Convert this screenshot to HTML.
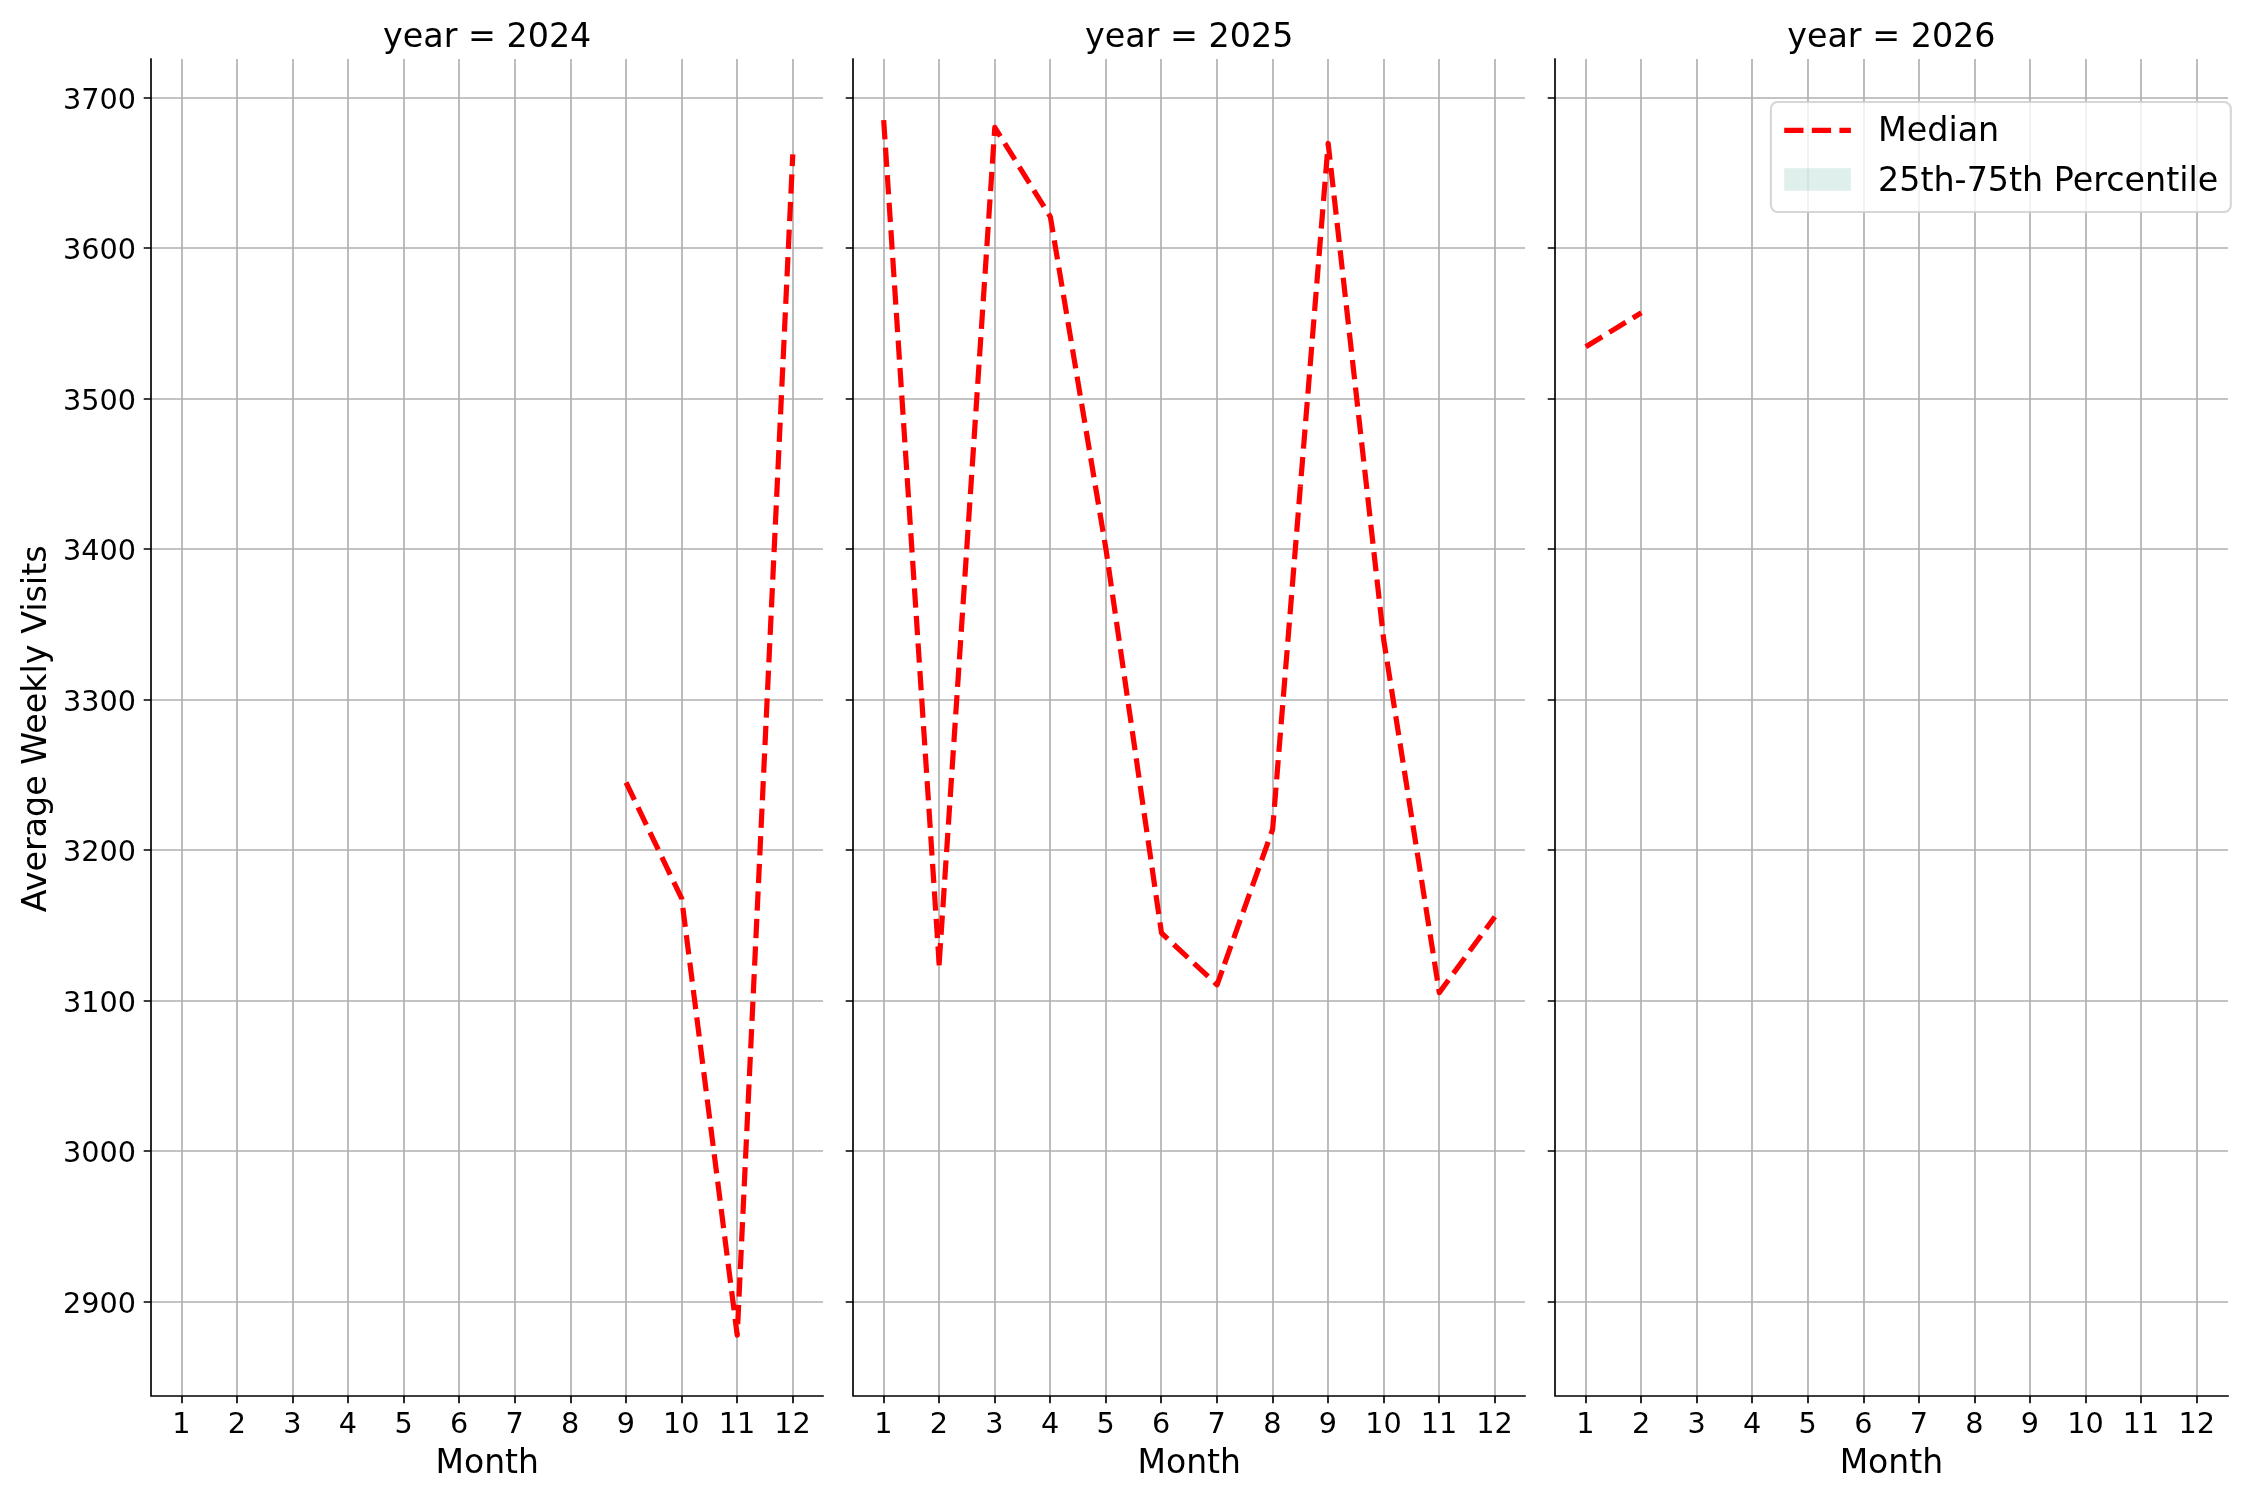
<!DOCTYPE html>
<html><head><meta charset="utf-8"><title>Average Weekly Visits by Month</title>
<style>html,body{margin:0;padding:0;background:#fff;overflow:hidden;}svg{display:block;will-change:transform;}text{font-family:'DejaVu Sans', 'Liberation Sans', sans-serif;fill:#000;}</style>
</head><body>
<svg width="2250" height="1500" viewBox="0 0 2250 1500">
<rect x="0" y="0" width="2250" height="1500" fill="#ffffff"/>
<defs>
<clipPath id="c0"><rect x="151" y="59" width="672" height="1337"/></clipPath>
<clipPath id="c1"><rect x="853" y="59" width="672" height="1337"/></clipPath>
<clipPath id="c2"><rect x="1555" y="59" width="673" height="1337"/></clipPath>
</defs>
<path d="M182 1396V59M237 1396V59M293 1396V59M348 1396V59M404 1396V59M459 1396V59M515 1396V59M571 1396V59M626 1396V59M682 1396V59M737 1396V59M793 1396V59M151 1302H823M151 1151H823M151 1001H823M151 850H823M151 700H823M151 549H823M151 399H823M151 248H823M151 98H823" stroke="#b0b0b0" stroke-width="1.667" stroke-linecap="square" fill="none" clip-path="url(#c0)"/>
<path d="M626.09 782.50 L681.66 898.40 L737.22 1335.10 L792.78 154.30" stroke="#ff0000" stroke-width="5.208" stroke-dasharray="19.271 8.333" stroke-linecap="butt" stroke-linejoin="round" fill="none" clip-path="url(#c0)"/>
<path d="M182 1396v7.29M237 1396v7.29M293 1396v7.29M348 1396v7.29M404 1396v7.29M459 1396v7.29M515 1396v7.29M571 1396v7.29M626 1396v7.29M682 1396v7.29M737 1396v7.29M793 1396v7.29M151 1302h-7.29M151 1151h-7.29M151 1001h-7.29M151 850h-7.29M151 700h-7.29M151 549h-7.29M151 399h-7.29M151 248h-7.29M151 98h-7.29" stroke="#000" stroke-width="1.667" fill="none"/>
<path d="M151 59V1396H823" stroke="#000" stroke-width="1.667" stroke-linecap="square" stroke-linejoin="miter" fill="none"/>
<text x="181.30" y="1433.0" font-size="28.7" text-anchor="middle">1</text>
<text x="236.86" y="1433.0" font-size="28.7" text-anchor="middle">2</text>
<text x="292.42" y="1433.0" font-size="28.7" text-anchor="middle">3</text>
<text x="347.99" y="1433.0" font-size="28.7" text-anchor="middle">4</text>
<text x="403.55" y="1433.0" font-size="28.7" text-anchor="middle">5</text>
<text x="459.11" y="1433.0" font-size="28.7" text-anchor="middle">6</text>
<text x="514.67" y="1433.0" font-size="28.7" text-anchor="middle">7</text>
<text x="570.23" y="1433.0" font-size="28.7" text-anchor="middle">8</text>
<text x="625.79" y="1433.0" font-size="28.7" text-anchor="middle">9</text>
<text x="681.36" y="1433.0" font-size="28.7" text-anchor="middle">10</text>
<text x="736.92" y="1433.0" font-size="28.7" text-anchor="middle">11</text>
<text x="792.48" y="1433.0" font-size="28.7" text-anchor="middle">12</text>
<text x="487.19" y="1472.8" font-size="33.0" text-anchor="middle">Month</text>
<text x="487.19" y="47.1" font-size="33.33" text-anchor="middle">year = 2024</text>
<path d="M884 1396V59M939 1396V59M995 1396V59M1050 1396V59M1106 1396V59M1161 1396V59M1217 1396V59M1273 1396V59M1328 1396V59M1384 1396V59M1439 1396V59M1495 1396V59M853 1302H1525M853 1151H1525M853 1001H1525M853 850H1525M853 700H1525M853 549H1525M853 399H1525M853 248H1525M853 98H1525" stroke="#b0b0b0" stroke-width="1.667" stroke-linecap="square" fill="none" clip-path="url(#c1)"/>
<path d="M883.68 120.10 L939.24 965.30" stroke="#ff0000" stroke-width="5.208" stroke-dasharray="19.271 8.333" stroke-linecap="butt" stroke-linejoin="round" fill="none" clip-path="url(#c1)"/>
<path d="M939.24 962.30 L994.80 127.30 L1050.37 216.90 L1105.93 549.00 L1161.49 933.00 L1217.05 984.80 L1223.72 966.16" stroke="#ff0000" stroke-width="5.208" stroke-dasharray="19.271 8.333" stroke-linecap="butt" stroke-linejoin="round" fill="none" clip-path="url(#c1)"/>
<path d="M1223.72 966.16 L1272.61 829.50 L1300.39 486.40" stroke="#ff0000" stroke-width="5.208" stroke-dasharray="19.271 8.333" stroke-dashoffset="25.378" stroke-linecap="butt" stroke-linejoin="round" fill="none" clip-path="url(#c1)"/>
<path d="M1300.39 486.40 L1328.17 143.30 L1383.74 640.00 L1439.30 992.60 L1494.86 916.80" stroke="#ff0000" stroke-width="5.208" stroke-dasharray="19.271 8.333" stroke-dashoffset="17.331" stroke-linecap="butt" stroke-linejoin="round" fill="none" clip-path="url(#c1)"/>
<path d="M884 1396v7.29M939 1396v7.29M995 1396v7.29M1050 1396v7.29M1106 1396v7.29M1161 1396v7.29M1217 1396v7.29M1273 1396v7.29M1328 1396v7.29M1384 1396v7.29M1439 1396v7.29M1495 1396v7.29M853 1302h-7.29M853 1151h-7.29M853 1001h-7.29M853 850h-7.29M853 700h-7.29M853 549h-7.29M853 399h-7.29M853 248h-7.29M853 98h-7.29" stroke="#000" stroke-width="1.667" fill="none"/>
<path d="M853 59V1396H1525" stroke="#000" stroke-width="1.667" stroke-linecap="square" stroke-linejoin="miter" fill="none"/>
<text x="883.38" y="1433.0" font-size="28.7" text-anchor="middle">1</text>
<text x="938.94" y="1433.0" font-size="28.7" text-anchor="middle">2</text>
<text x="994.50" y="1433.0" font-size="28.7" text-anchor="middle">3</text>
<text x="1050.07" y="1433.0" font-size="28.7" text-anchor="middle">4</text>
<text x="1105.63" y="1433.0" font-size="28.7" text-anchor="middle">5</text>
<text x="1161.19" y="1433.0" font-size="28.7" text-anchor="middle">6</text>
<text x="1216.75" y="1433.0" font-size="28.7" text-anchor="middle">7</text>
<text x="1272.31" y="1433.0" font-size="28.7" text-anchor="middle">8</text>
<text x="1327.87" y="1433.0" font-size="28.7" text-anchor="middle">9</text>
<text x="1383.44" y="1433.0" font-size="28.7" text-anchor="middle">10</text>
<text x="1439.00" y="1433.0" font-size="28.7" text-anchor="middle">11</text>
<text x="1494.56" y="1433.0" font-size="28.7" text-anchor="middle">12</text>
<text x="1189.27" y="1472.8" font-size="33.0" text-anchor="middle">Month</text>
<text x="1189.27" y="47.1" font-size="33.33" text-anchor="middle">year = 2025</text>
<path d="M1586 1396V59M1641 1396V59M1697 1396V59M1752 1396V59M1808 1396V59M1864 1396V59M1919 1396V59M1975 1396V59M2030 1396V59M2086 1396V59M2141 1396V59M2197 1396V59M1555 1302H2228M1555 1151H2228M1555 1001H2228M1555 850H2228M1555 700H2228M1555 549H2228M1555 399H2228M1555 248H2228M1555 98H2228" stroke="#b0b0b0" stroke-width="1.667" stroke-linecap="square" fill="none" clip-path="url(#c2)"/>
<path d="M1585.78 346.80 L1641.34 312.70" stroke="#ff0000" stroke-width="5.208" stroke-dasharray="19.271 8.333" stroke-linecap="butt" stroke-linejoin="round" fill="none" clip-path="url(#c2)"/>
<path d="M1586 1396v7.29M1641 1396v7.29M1697 1396v7.29M1752 1396v7.29M1808 1396v7.29M1864 1396v7.29M1919 1396v7.29M1975 1396v7.29M2030 1396v7.29M2086 1396v7.29M2141 1396v7.29M2197 1396v7.29M1555 1302h-7.29M1555 1151h-7.29M1555 1001h-7.29M1555 850h-7.29M1555 700h-7.29M1555 549h-7.29M1555 399h-7.29M1555 248h-7.29M1555 98h-7.29" stroke="#000" stroke-width="1.667" fill="none"/>
<path d="M1555 59V1396H2228" stroke="#000" stroke-width="1.667" stroke-linecap="square" stroke-linejoin="miter" fill="none"/>
<text x="1585.48" y="1433.0" font-size="28.7" text-anchor="middle">1</text>
<text x="1641.04" y="1433.0" font-size="28.7" text-anchor="middle">2</text>
<text x="1696.60" y="1433.0" font-size="28.7" text-anchor="middle">3</text>
<text x="1752.17" y="1433.0" font-size="28.7" text-anchor="middle">4</text>
<text x="1807.73" y="1433.0" font-size="28.7" text-anchor="middle">5</text>
<text x="1863.29" y="1433.0" font-size="28.7" text-anchor="middle">6</text>
<text x="1918.85" y="1433.0" font-size="28.7" text-anchor="middle">7</text>
<text x="1974.41" y="1433.0" font-size="28.7" text-anchor="middle">8</text>
<text x="2029.97" y="1433.0" font-size="28.7" text-anchor="middle">9</text>
<text x="2085.54" y="1433.0" font-size="28.7" text-anchor="middle">10</text>
<text x="2141.10" y="1433.0" font-size="28.7" text-anchor="middle">11</text>
<text x="2196.66" y="1433.0" font-size="28.7" text-anchor="middle">12</text>
<text x="1891.37" y="1472.8" font-size="33.0" text-anchor="middle">Month</text>
<text x="1891.37" y="47.1" font-size="33.33" text-anchor="middle">year = 2026</text>
<text x="136.0" y="1312.60" font-size="28.7" text-anchor="end">2900</text>
<text x="136.0" y="1161.60" font-size="28.7" text-anchor="end">3000</text>
<text x="136.0" y="1011.60" font-size="28.7" text-anchor="end">3100</text>
<text x="136.0" y="860.60" font-size="28.7" text-anchor="end">3200</text>
<text x="136.0" y="710.60" font-size="28.7" text-anchor="end">3300</text>
<text x="136.0" y="559.60" font-size="28.7" text-anchor="end">3400</text>
<text x="136.0" y="409.60" font-size="28.7" text-anchor="end">3500</text>
<text x="136.0" y="258.60" font-size="28.7" text-anchor="end">3600</text>
<text x="136.0" y="108.60" font-size="28.7" text-anchor="end">3700</text>
<text transform="translate(45.6 728.80) rotate(-90)" font-size="33.33" text-anchor="middle">Average Weekly Visits</text>
<rect x="1770.9" y="102.0" width="459.90" height="110.00" rx="6.67" ry="6.67" fill="#ffffff" fill-opacity="0.8" stroke="#cccccc" stroke-opacity="0.8" stroke-width="2.083"/>
<path d="M1784.2 130.4H1850.9" stroke="#ff0000" stroke-width="5.208" stroke-dasharray="19.271 8.333" fill="none"/>
<rect x="1784.2" y="168.2" width="66.7" height="22.6" fill="#5fb4a0" fill-opacity="0.2"/>
<text x="1878.0" y="141.4" font-size="33.33">Median</text>
<text x="1878.0" y="190.8" font-size="33.33">25th-75th Percentile</text>
</svg>
</body></html>
